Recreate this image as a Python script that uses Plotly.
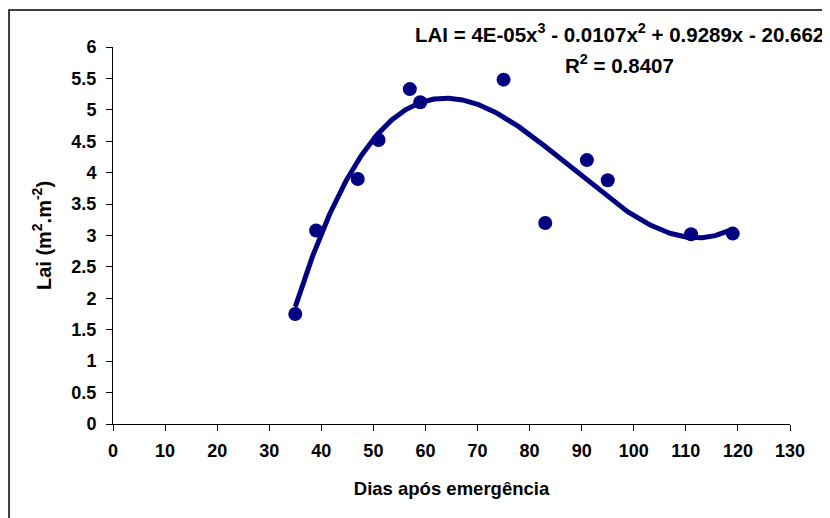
import numpy as np
import plotly.graph_objects as go

# Data
dias = [35, 39, 47, 51, 57, 59, 75, 83, 91, 95, 111, 119]
lai = [1.75, 3.08, 3.90, 4.52, 5.33, 5.12, 5.48, 3.20, 4.20, 3.88, 3.02, 3.03]

x_ticks = list(range(0, 131, 10))
y_ticks = [0, 0.5, 1, 1.5, 2, 2.5, 3, 3.5, 4, 4.5, 5, 5.5, 6]
y_tick_labels = ["0", "0.5", "1", "1.5", "2", "2.5", "3", "3.5", "4", "4.5", "5", "5.5", "6"]

eq_text = "LAI = 4E-05x<sup>3</sup> - 0.0107x<sup>2</sup> + 0.9289x - 20.662"
r2_text = "R<sup>2</sup> = 0.8407"

# Polynomial trendline (order 3) fitted to the data
coef = np.polyfit(dias, lai, 3)
xf = np.linspace(min(dias), max(dias), 600)
yf = np.polyval(coef, xf)

navy = "#000080"
font_family = "Liberation Sans, Arial, sans-serif"

fig = go.Figure()
fig.add_trace(go.Scatter(x=xf, y=yf, mode="lines",
                         line=dict(color=navy, width=5), hoverinfo="skip",
                         showlegend=False))
fig.add_trace(go.Scatter(x=dias, y=lai, mode="markers",
                         marker=dict(color=navy, size=14), showlegend=False))

# page places the figure 8px from the top-left corner
fig.update_layout(
    width=830, height=518,
    margin=dict(l=105, r=48, t=39, b=102),
    paper_bgcolor="white", plot_bgcolor="white",
    font=dict(family=font_family, color="black", size=18, weight="bold"),
    xaxis=dict(range=[0, 130], tickvals=x_ticks, ticktext=[str(v) for v in x_ticks],
               showgrid=False, zeroline=False, showline=True, linecolor="black",
               linewidth=1, ticks="outside", ticklen=6, tickcolor="black",
               ticklabelstandoff=4,
               tickfont=dict(size=18, family=font_family, weight="bold"),
               title=dict(text="Dias após emergência", standoff=22,
                          font=dict(size=18.5, family=font_family, weight="bold"))),
    yaxis=dict(range=[0, 6], tickvals=y_ticks, ticktext=y_tick_labels,
               showgrid=False, zeroline=False, showline=True, linecolor="black",
               linewidth=1, ticks="outside", ticklen=6, tickcolor="black",
               ticklabelstandoff=6,
               tickfont=dict(size=18, family=font_family, weight="bold"),
               title=dict(text="Lai (m<sup>2</sup>.m<sup>-2</sup>)", standoff=14,
                          font=dict(size=20, family=font_family, weight="bold"))),
    shapes=[dict(type="rect", xref="paper", yref="paper",
                 x0=-0.1536, x1=1.0576, y0=-0.35, y1=1.098,
                 line=dict(color="black", width=1.5), fillcolor="rgba(0,0,0,0)",
                 layer="below")],
    annotations=[
        dict(text=eq_text, xref="paper", yref="paper", x=0.748, y=1.037,
             xanchor="center", yanchor="middle", showarrow=False,
             font=dict(size=20.5, family=font_family, weight="bold")),
        dict(text=r2_text, xref="paper", yref="paper", x=0.748, y=0.955,
             xanchor="center", yanchor="middle", showarrow=False,
             font=dict(size=20.5, family=font_family, weight="bold")),
    ],
)

fig.write_html("out.html")
